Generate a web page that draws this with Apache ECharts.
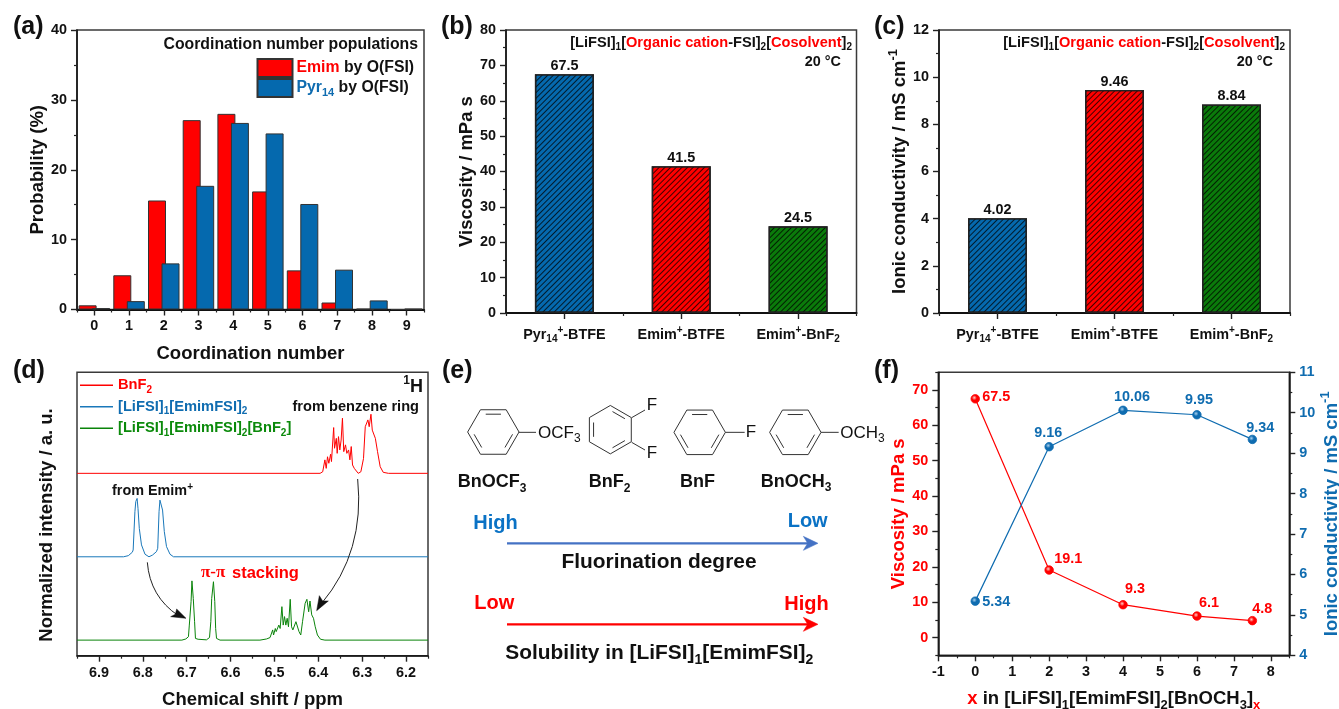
<!DOCTYPE html>
<html>
<head>
<meta charset="utf-8">
<style>html,body{margin:0;padding:0;background:#fff}#c{width:1339px;height:709px}</style>
<script src="https://cdn.jsdelivr.net/npm/echarts@6/dist/echarts.min.js"></script>
</head>
<body>
<div id="c"></div>
<script>
// ---------- panel (a) ----------
const coordinationNumbers = ['0','1','2','3','4','5','6','7','8','9'];
const emimProb = [0.6,4.9,15.6,27.1,28.0,16.9,5.6,1.0,0.1,0];
const pyrProb  = [0.2,1.2,6.6,17.7,26.7,25.2,15.1,5.7,1.3,0.1];
const aMinorX  = [-0.5,0.5,1.5,2.5,3.5,4.5,5.5,6.5,7.5,8.5,9.5];
// ---------- panels (b), (c) ----------
const cations = ['{n|Pyr}{s|14}{u|+}{n|-BTFE}','{n|Emim}{u|+}{n|-BTFE}','{n|Emim}{u|+}{n|-BnF}{s|2}'];
const viscosityBars = [67.5,41.5,24.5];
const conductivityBars = [4.02,9.46,8.84];
const barMinorX = [-0.5,0.5,1.5,2.5];
// ---------- panel (d) ----------
const ppmTicks = [6.9,6.8,6.7,6.6,6.5,6.4,6.3,6.2];
const ppmMinor = [6.95,6.85,6.75,6.65,6.55,6.45,6.35,6.25,6.15];
const ppmRed = [6.950,6.396,6.390,6.385,6.382,6.379,6.376,6.372,6.370,6.365,6.363,6.359,6.357,6.354,6.351,6.348,6.345,6.342,6.338,6.335,6.331,6.328,6.325,6.322,6.318,6.309,6.303,6.297,6.293,6.290,6.287,6.284,6.280,6.277,6.274,6.270,6.265,6.259,6.252,6.240,6.150];
const intRed = [64.35,64.35,64.9,69.1,66.1,70.2,67.9,71.1,68.5,80.5,73.2,76.7,71.4,77.3,72.6,76.1,83.8,72.0,74.4,71.4,72.6,69.1,73.8,67.3,66.1,64.35,64.9,69.6,80.8,81.4,83.2,80.8,85.2,79.6,79.6,76.7,72.0,66.7,64.7,64.35,64.35];
const ppmBlue = [6.950,6.844,6.833,6.824,6.822,6.818,6.816,6.813,6.811,6.808,6.803,6.795,6.786,6.778,6.769,6.766,6.763,6.761,6.758,6.755,6.751,6.746,6.738,6.730,6.150];
const intBlue = [34.9,34.9,35.3,36.5,37.3,50.8,54.4,55.5,52.0,44.9,39.1,35.8,34.9,35.5,36.7,37.9,50.8,54.9,55.2,51.4,43.8,38.5,35.8,34.9,34.9];
const ppmGreen = [6.950,6.711,6.702,6.696,6.694,6.690,6.688,6.685,6.682,6.680,6.674,6.655,6.648,6.645,6.643,6.639,6.636,6.634,6.632,6.624,6.533,6.518,6.510,6.504,6.502,6.498,6.496,6.490,6.487,6.483,6.480,6.477,6.474,6.471,6.468,6.464,6.461,6.458,6.455,6.451,6.447,6.444,6.440,6.436,6.430,6.426,6.422,6.419,6.415,6.411,6.407,6.402,6.395,6.385,6.150];
const intGreen = [5.5,5.5,5.9,6.7,10.8,19.1,26.4,20.2,12.0,6.1,5.8,5.6,6.4,12.0,20.2,26.1,19.1,9.6,6.1,5.5,5.5,5.9,6.4,9.1,7.3,9.6,8.5,10.8,9.6,17.3,10.8,13.8,10.8,13.2,10.2,19.9,10.2,9.1,8.5,12.0,12.6,8.5,7.3,12.0,18.5,19.9,15.5,19.3,14.4,13.2,10.2,7.3,5.8,5.5,5.5];
// ---------- panel (f) ----------
const xBnOCH3 = [0,2,4,6,7.5];
const viscosityLine = [67.5,19.1,9.3,6.1,4.8];
const conductivityLine = [5.34,9.16,10.06,9.95,9.34];
const fLeftTicks = [0,10,20,30,40,50,60,70];
const fLeftMinor = [-5,5,15,25,35,45,55,65,75];
const fXMinor = [-0.5,0.5,1.5,2.5,3.5,4.5,5.5,6.5,7.5,8.5];
const viscosityLabelOffsets = [[21,-2],[19,-11],[12,-16],[12,-13],[10,-12]];
const conductivityLabelOffsets = [[21,1],[-1,-14],[9,-13],[2,-15],[8,-11]];

const F = '"Liberation Sans", Arial, sans-serif';
const INK = '#111', RED = '#ff0000', BLUE = '#0f6cb0', GREEN = '#0b8a0b', BORDER = '#3a3a3a';
const BAR_BLUE = '#0569ae', BAR_RED = '#ff0000', BAR_GREEN = '#0a7a0a';

function tok(size, color, align, bold, lh) {
  return {fontSize:size, fontWeight:bold===false?'normal':'bold', fontFamily:F, color:color, fill:color,
          verticalAlign:align||'middle', lineHeight:lh, align:'left'};
}
function rich(size, weight) {
  const lh = Math.round(size*1.35), sub = Math.round(size*0.68), b = weight !== false;
  const out = {};
  [['n','s','u',INK],['r','rs','ru',RED],['b','bs','bu',BLUE],['g','gs','gu',GREEN],['e','es','eu','#0a72c5']].forEach(([a,c,d,col])=>{
    out[a] = tok(size,col,'middle',b,lh);
    out[c] = tok(sub,col,'bottom',b,lh);
    out[d] = tok(sub,col,'top',b,lh);
  });
  return out;
}
const tickLabel = (color)=>({color:color||INK,fontFamily:F,fontWeight:'bold',fontSize:14.4,margin:10});
const axisLine = (w)=>({show:true,onZero:false,lineStyle:{color:'#111',width:w||1.5}});
const noAxis = {axisLine:{show:false,onZero:false},axisLabel:{show:false},splitLine:{show:false}};
const minorTickStyle = {color:'#222',width:1.2};
const majorTick = {show:true,length:6,lineStyle:{color:'#222',width:1.4}};
const yMinor = {show:true,splitNumber:2,length:3,lineStyle:minorTickStyle};
const axisName = (gap,extra)=>Object.assign({nameLocation:'middle',nameGap:gap,
  nameTextStyle:{rich:rich(18.5),fontFamily:F,fontWeight:'bold',fontSize:18.5}},extra||{});

const grids = [
  {left:77,top:30,width:347,height:279.5},
  {left:506,top:30,width:350.5,height:283},
  {left:939,top:30,width:351,height:283},
  {left:77,top:372.3,width:351,height:283.4},
  {left:938.3,top:372.3,width:351,height:283}
].map(g=>Object.assign({show:true,borderColor:BORDER,borderWidth:1.5,backgroundColor:'transparent',outerBoundsMode:'none'},g));

const minorXAxis = (gridIndex,min,max,vals,inverse)=>Object.assign({type:'value',gridIndex,min,max,inverse:!!inverse,position:'bottom',
  axisTick:{show:true,length:3,customValues:vals,lineStyle:minorTickStyle}},noAxis);
const minorYAxis = (gridIndex,min,max,vals)=>Object.assign({type:'value',gridIndex,min,max,position:'left',
  axisTick:{show:true,length:3,customValues:vals,lineStyle:minorTickStyle}},noAxis);
const catLabel = ()=>Object.assign(tickLabel(),{rich:rich(14.4),margin:12.5,interval:0});

const xAxis = [
  Object.assign({type:'category',gridIndex:0,position:'bottom',data:coordinationNumbers,name:'{n|Coordination number}',
    axisTick:Object.assign({alignWithLabel:true},majorTick),axisLine:axisLine(2),axisLabel:Object.assign(tickLabel(),{interval:0})},axisName(32)),
  minorXAxis(0,-0.5,9.5,aMinorX),
  {type:'category',gridIndex:1,position:'bottom',data:cations,
    axisTick:Object.assign({alignWithLabel:true},majorTick),axisLine:axisLine(2),axisLabel:catLabel()},
  minorXAxis(1,-0.5,2.5,barMinorX),
  {type:'category',gridIndex:2,position:'bottom',data:cations,
    axisTick:Object.assign({alignWithLabel:true},majorTick),axisLine:axisLine(2),axisLabel:catLabel()},
  minorXAxis(2,-0.5,2.5,barMinorX),
  Object.assign({type:'value',gridIndex:3,position:'bottom',min:6.15,max:6.95,inverse:true,name:'{n|Chemical shift / ppm}',
    axisLine:axisLine(1.5),splitLine:{show:false},
    axisTick:Object.assign({customValues:ppmTicks},majorTick),
    axisLabel:Object.assign(tickLabel(),{customValues:ppmTicks,formatter:v=>v.toFixed(1)})},axisName(31.5)),
  minorXAxis(3,6.15,6.95,ppmMinor,true),
  Object.assign({type:'value',gridIndex:4,position:'bottom',min:-1,max:8.5,interval:1,
    name:'{r|x}{n| in [LiFSI]}{s|1}{n|[EmimFSI]}{s|2}{n|[BnOCH}{s|3}{n|]}{rs|x}',
    axisLine:axisLine(1.5),splitLine:{show:false},axisTick:Object.assign({customValues:[-1,0,1,2,3,4,5,6,7,8]},majorTick),
    axisLabel:Object.assign(tickLabel(),{customValues:[-1,0,1,2,3,4,5,6,7,8]})},axisName(31.5)),
  minorXAxis(4,-1,8.5,fXMinor)
];
const yAxis = [
  Object.assign({type:'value',gridIndex:0,min:0,max:40,interval:10,name:'{n|Probability (%)}',splitLine:{show:false},
    axisLine:axisLine(1.5),axisTick:majorTick,minorTick:yMinor,axisLabel:tickLabel()},axisName(21)),
  Object.assign({type:'value',gridIndex:1,min:0,max:80,interval:10,name:'{n|Viscosity / mPa s}',splitLine:{show:false},
    axisLine:axisLine(1.5),axisTick:majorTick,minorTick:yMinor,axisLabel:tickLabel()},axisName(22.5)),
  Object.assign({type:'value',gridIndex:2,min:0,max:12,interval:2,name:'{n|Ionic conductivity / mS cm}{u|-1}',splitLine:{show:false},
    axisLine:axisLine(1.5),axisTick:majorTick,minorTick:yMinor,axisLabel:tickLabel()},axisName(23)),
  Object.assign({type:'value',gridIndex:3,min:0,max:100,axisTick:{show:false}},noAxis),
  Object.assign({type:'value',gridIndex:4,min:-5,max:75,position:'left',name:'{r|Viscosity / mPa s}',splitLine:{show:false},
    axisLine:axisLine(1.5),axisTick:Object.assign({customValues:fLeftTicks},majorTick),
    axisLabel:Object.assign(tickLabel(RED),{customValues:fLeftTicks})},axisName(23)),
  minorYAxis(4,-5,75,fLeftMinor),
  Object.assign({type:'value',gridIndex:4,min:4,max:11,interval:1,position:'right',
    name:'{b|Ionic conductivity / mS cm}{bu|-1}',nameRotate:90,splitLine:{show:false},
    axisLine:axisLine(1.5),axisTick:majorTick,minorTick:yMinor,axisLabel:tickLabel(BLUE)},axisName(30))
];

const hatch = {symbol:'rect',symbolSize:1,dashArrayX:[1,0],dashArrayY:[1,2.5],rotation:-Math.PI/4,color:'rgba(0,0,0,0.75)'};
const hatchBars = (vals)=>vals.map((v,i)=>({value:v,itemStyle:{color:[BAR_BLUE,BAR_RED,BAR_GREEN][i],borderColor:'#222',borderWidth:1.4,decal:hatch}}));
const barLabel = {show:true,position:'top',distance:1,color:INK,fontFamily:F,fontWeight:'bold',fontSize:14.4};
const ball = (c)=>({type:'radial',x:0.4,y:0.38,r:0.6,colorStops:[{offset:0,color:'#ffd0c8'},{offset:0.45,color:c},{offset:1,color:c}]});
const ballB = (c)=>({type:'radial',x:0.4,y:0.38,r:0.6,colorStops:[{offset:0,color:'#a8d0ee'},{offset:0.45,color:c},{offset:1,color:c}]});
const lineLabelled = (vals,xs,offs,col,fill,yIdx,name)=>({type:'line',name,xAxisIndex:8,yAxisIndex:yIdx,
  data:vals.map((v,i)=>({value:[xs[i],v],label:{offset:offs[i]}})),
  lineStyle:{color:col,width:1.2},itemStyle:{color:fill,borderColor:col,borderWidth:0.8},symbol:'circle',symbolSize:8.5,showSymbol:true,
  label:{show:true,position:'inside',color:col,fontFamily:F,fontWeight:'bold',fontSize:14.4,formatter:p=>String(p.value[1])}});
const spectrum = (name,xs,ys,col)=>({type:'line',name,xAxisIndex:6,yAxisIndex:3,data:xs.map((x,i)=>[x,ys[i]]),
  showSymbol:false,symbol:'none',sampling:null,smooth:false,lineStyle:{color:col,width:1},itemStyle:{color:col}});

const series = [
  {type:'bar',name:'Emim',xAxisIndex:0,yAxisIndex:0,data:emimProb,barWidth:18,barGap:'-25%',
   itemStyle:{color:BAR_RED,borderColor:'#333',borderWidth:1}},
  {type:'bar',name:'Pyr14',xAxisIndex:0,yAxisIndex:0,data:pyrProb,barWidth:18,barGap:'-25%',
   itemStyle:{color:BAR_BLUE,borderColor:'#333',borderWidth:1}},
  {type:'bar',name:'Viscosity',xAxisIndex:2,yAxisIndex:1,data:hatchBars(viscosityBars),barWidth:59,label:barLabel},
  {type:'bar',name:'Conductivity',xAxisIndex:4,yAxisIndex:2,data:hatchBars(conductivityBars),barWidth:59,
   label:Object.assign({},barLabel,{formatter:p=>p.value.toFixed(2)})},
  spectrum('BnF2',ppmRed,intRed,'#ff0000'),
  spectrum('[LiFSI]1[EmimFSI]2',ppmBlue,intBlue,'#1a78ba'),
  spectrum('[LiFSI]1[EmimFSI]2[BnF2]',ppmGreen,intGreen,'#0a840a'),
  lineLabelled(viscosityLine,xBnOCH3,viscosityLabelOffsets,RED,ball(RED),4,'Viscosity vs x'),
  lineLabelled(conductivityLine,xBnOCH3,conductivityLabelOffsets,BLUE,ballB(BLUE),6,'Conductivity vs x')
];

const legendA = {Emim:'{r|Emim}{n| by O(FSI)}',Pyr14:'{b|Pyr}{bs|14}{n| by O(FSI)}'};
const legendD = {'BnF2':'{r|BnF}{rs|2}','[LiFSI]1[EmimFSI]2':'{b|[LiFSI]}{bs|1}{b|[EmimFSI]}{bs|2}',
  '[LiFSI]1[EmimFSI]2[BnF2]':'{g|[LiFSI]}{gs|1}{g|[EmimFSI]}{gs|2}{g|[BnF}{gs|2}{g|]}'};
const legend = [
  {data:['Emim','Pyr14'],orient:'vertical',left:251.5,top:53,itemWidth:35,itemHeight:18,itemGap:0,selectedMode:false,
   icon:'rect',formatter:n=>legendA[n],textStyle:{rich:rich(15.8),padding:[0,0,0,-1]}},
  {data:Object.keys(legendD),orient:'vertical',left:75,top:372.7,itemWidth:33,itemHeight:1.5,itemGap:4,selectedMode:false,
   icon:'rect',formatter:n=>legendD[n],textStyle:{rich:rich(14.7),padding:[0,0,0,0]}}
];

// ---------- annotations and the schematic of panel (e) ----------
function T(x,y,text,size,align,opt){
  opt = opt||{};
  return {type:'text',silent:true,x,y,rotation:opt.rot||0,z:50,style:{text,rich:rich(size,opt.weight),align:align||'left',verticalAlign:'middle',
    textAlign:align||'left',textVerticalAlign:'middle',fontFamily:F,fontSize:size,fontWeight:'bold'}};
}
const ex = z=>440+z/3, ey = z=>355+z/3;
const stroke = (c,w)=>({stroke:c,lineWidth:w,fill:'none'});
function seg(x1,y1,x2,y2,c,w){return {type:'line',silent:true,z:40,shape:{x1,y1,x2,y2},style:{stroke:c||'#333',lineWidth:w||1}};}
function ring(cx,cy,r,start,edges){
  const v=[];for(let i=0;i<6;i++){const a=(start+i*60)*Math.PI/180;v.push([cx+r*Math.cos(a),cy+r*Math.sin(a)]);}
  const out=[{type:'polygon',silent:true,z:40,shape:{points:v},style:stroke('#333',1)}];
  edges.forEach(([a,b])=>{
    const p=v[a].map((q,k)=>[cx,cy][k]+(q-[cx,cy][k])*0.8), q=v[b].map((q,k)=>[cx,cy][k]+(q-[cx,cy][k])*0.8);
    const t=0.13; out.push(seg(p[0]+(q[0]-p[0])*t,p[1]+(q[1]-p[1])*t,q[0]-(q[0]-p[0])*t,q[1]-(q[1]-p[1])*t));
  });
  return out;
}
const flat=[[4,5],[2,3],[0,1]];
function head(points,c){return {type:'polygon',silent:true,z:45,shape:{points},style:{fill:c,stroke:c,lineWidth:0.5}};}
const dx=z=>z/3, dy=z=>355+z/3;

const graphic = [
  T(13,27,'{n|(a)}',25), T(441,27,'{n|(b)}',25), T(874,27,'{n|(c)}',25),
  T(13,371,'{n|(d)}',25), T(442,371,'{n|(e)}',25), T(874,371,'{n|(f)}',25),
  T(418,44.5,'{n|Coordination number populations}',15.8,'right'),
  T(852,42.5,'{n|[LiFSI]}{s|1}{n|[}{r|Organic cation}{n|-FSI]}{s|2}{n|[}{r|Cosolvent}{n|]}{s|2}',14.6,'right'),
  T(841,62,'{n|20 \u00b0C}',14.4,'right'),
  T(1285,42.5,'{n|[LiFSI]}{s|1}{n|[}{r|Organic cation}{n|-FSI]}{s|2}{n|[}{r|Cosolvent}{n|]}{s|2}',14.6,'right'),
  T(1273,62,'{n|20 \u00b0C}',14.4,'right'),
  // panel (d)
  T(47,525,'{n|Normalized intensity / a. u.}',18.5,'center',{rot:Math.PI/2}),
  T(423,387,'{u|1}{n|H}',18,'right'),
  T(419,407,'{n|from benzene ring}',14.6,'right'),
  T(112,491.5,'{n|from Emim}{u|+}',14.4),
  {type:'text',silent:true,z:50,x:201,y:573,style:{text:'\u03c0-\u03c0',font:'bold 17px "Liberation Serif", serif',fill:RED,textAlign:'left',textVerticalAlign:'middle'}},
  T(232,573,'{r|stacking}',16.5),
  {type:'bezierCurve',silent:true,z:40,shape:{x1:dx(442),y1:dy(622),cpx1:dx(450),cpy1:dy(725),x2:dx(535),y2:dy(782)},style:stroke('#222',1)},
  head([[dx(558),dy(790)],[dx(512),dy(785)],[dx(526),dy(778)],[dx(530),dy(762)]],'#111'),
  {type:'bezierCurve',silent:true,z:40,shape:{x1:dx(1073),y1:dy(372),cpx1:dx(1095),cpy1:dy(590),x2:dx(965),y2:dy(745)},style:stroke('#222',1)},
  head([[dx(950),dy(767)],[dx(958),dy(722)],[dx(968),dy(738)],[dx(985),dy(738)]],'#111'),
  // panel (e) molecules
  ...ring(ex(160),ey(231),25.7,0,flat),
  ...ring(ex(511),ey(224),24.2,30,flat),
  ...ring(ex(779),ey(232),25.7,0,flat),
  ...ring(ex(1066),ey(232),25.7,0,flat),
  seg(ex(237),ey(232),ex(288),ey(232)),
  seg(ex(575),ey(188),ex(615),ey(165)),
  seg(ex(575),ey(262),ex(615),ey(285)),
  seg(ex(856),ey(232),ex(914),ey(232)),
  seg(ex(1143),ey(232),ex(1196),ey(232)),
  T(ex(294),ey(234),'{n|OCF}{s|3}',17,'left',{weight:false}),
  T(ex(620),ey(152),'{n|F}',17,'left',{weight:false}),
  T(ex(620),ey(296),'{n|F}',17,'left',{weight:false}),
  T(ex(917),ey(233),'{n|F}',17,'left',{weight:false}),
  T(ex(1201),ey(234),'{n|OCH}{s|3}',17,'left',{weight:false}),
  T(ex(53),ey(382),'{n|BnOCF}{s|3}',18),
  T(ex(446),ey(382),'{n|BnF}{s|2}',18),
  T(ex(720),ey(381),'{n|BnF}',18),
  T(ex(962),ey(381),'{n|BnOCH}{s|3}',18),
  T(ex(100),ey(504),'{e|High}',20),
  T(ex(1043),ey(500),'{e|Low}',20),
  seg(ex(201),ey(565),ex(1115),ey(565),'#4472c4',2.2),
  head([[ex(1134),ey(565)],[ex(1090),ey(544)],[ex(1103),ey(565)],[ex(1090),ey(586)]],'#4472c4'),
  T(ex(657),ey(621),'{n|Fluorination degree}',20.9,'center'),
  T(ex(103),ey(744),'{r|Low}',20),
  T(ex(1033),ey(747),'{r|High}',20),
  seg(ex(201),ey(808),ex(1115),ey(808),RED,2.2),
  head([[ex(1134),ey(808)],[ex(1090),ey(787)],[ex(1103),ey(808)],[ex(1090),ey(829)]],RED),
  T(ex(658),ey(895),'{n|Solubility in [LiFSI]}{s|1}{n|[EmimFSI]}{s|2}',20.9,'center')
];

const chart = echarts.init(document.getElementById('c'),null,{renderer:'canvas',width:1339,height:709});
chart.setOption({animation:false,backgroundColor:'#fff',textStyle:{fontFamily:F},
  grid:grids,xAxis,yAxis,series,legend,graphic});
</script>
</body>
</html>
